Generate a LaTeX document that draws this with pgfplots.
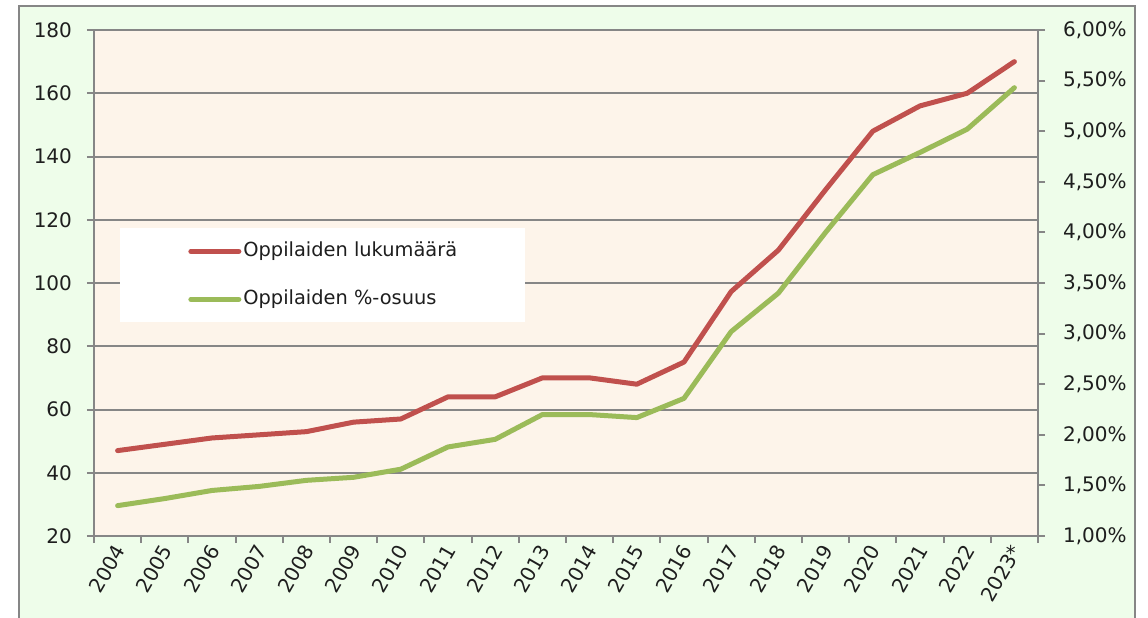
\documentclass[border=0pt]{standalone}
\usepackage{pgfplots}
\pgfplotsset{compat=1.18}
\usepackage{fontspec}
\setmainfont{DejaVu Sans}
\definecolor{outerg}{RGB}{238,253,234}
\definecolor{peach}{RGB}{253,244,234}
\definecolor{gridg}{RGB}{134,134,134}
\definecolor{redl}{RGB}{192,80,77}
\definecolor{greenl}{RGB}{155,187,89}
\definecolor{txt}{RGB}{30,30,30}
\pgfplotstableread{
x red green
0 47 1.30
1 49 1.37
2 51 1.45
3 52 1.49
4 53 1.55
5 56 1.58
6 57 1.66
7 64 1.88
8 64 1.955
9 70 2.20
10 70 2.20
11 68 2.17
12 75 2.36
13 97.3 3.02
14 110.4 3.40
15 129.5 4.00
16 148 4.57
17 156 4.79
18 160 5.02
19 170 5.43
}\datatable
\pgfplotsset{
  common/.style={
    at={(47pt,40.5pt)}, anchor=south west,
    scale only axis, width=472pt, height=253pt,
    xmin=-0.5, xmax=19.5,
    axis line style={gridg, line width=1pt},
    tick style={gridg, line width=1pt},
    tick align=outside,
    major tick length=3.5pt,
    minor tick length=3.5pt,
    /pgf/number format/assume math mode=true,
    tick label style={font=\fontsize{10}{12}\selectfont, text=txt},
  }
}
\begin{document}
\begin{tikzpicture}
\useasboundingbox (0,0) rectangle (574pt,308.5pt);
\clip (0,0) rectangle (574pt,308.5pt);
\fill[white] (0,0) rectangle (574pt,308.5pt);
\filldraw[fill=outerg, draw=gridg, line width=1pt] (9.5pt,-20pt) rectangle (567.5pt,305.5pt);
\begin{axis}[
  common,
  ymin=20, ymax=180,
  axis background/.style={fill=peach},
  ytick={20,40,...,180},
  ymajorgrids, grid style={gridg, line width=1pt},
  axis x line*=bottom, axis y line*=left,
  yticklabel style={xshift=-4pt},
  xtick={0,...,19},
  xticklabels={2004,2005,2006,2007,2008,2009,2010,2011,2012,2013,2014,2015,2016,2017,2018,2019,2020,2021,2022,2023*},
  major x tick style={draw=none},
  minor xtick={-0.5,0.5,...,19.5},
  minor x tick style={gridg, line width=1pt},
  x tick label style={rotate=60, anchor=east, yshift=-2pt, inner sep=1pt},
]
\addplot[redl, line width=2.5pt, line join=round, line cap=round] table[x=x, y=red] {\datatable};
\end{axis}
\begin{axis}[
  common,
  ymin=1, ymax=6,
  axis x line=none, axis y line*=right,
  ytick={1,1.5,...,6},
  yticklabel style={xshift=5.5pt},
  yticklabel={\pgfmathprintnumber[fixed, fixed zerofill, precision=2, use comma]{\tick}\%},
  legend style={at={(0.0275,0.6087)}, anchor=north west, fill=white, draw=none,
    inner xsep=34pt, inner ysep=7pt, row sep=15pt, column sep=1pt,
    nodes={inner sep=0pt, text height=7pt, text depth=2pt, font=\fontsize{9.7}{11}\selectfont, text=txt}},
  legend cell align=left,
  legend image code/.code={\draw[#1, line width=2.5pt, line cap=round] (0pt,0pt) -- (24pt,0pt);},
]
\addlegendimage{redl}
\addlegendentry{Oppilaiden lukumäärä}
\addplot[greenl, line width=2.5pt, line join=round, line cap=round] table[x=x, y=green] {\datatable};
\addlegendentry{Oppilaiden \%-osuus}
\end{axis}
\end{tikzpicture}
\end{document}
